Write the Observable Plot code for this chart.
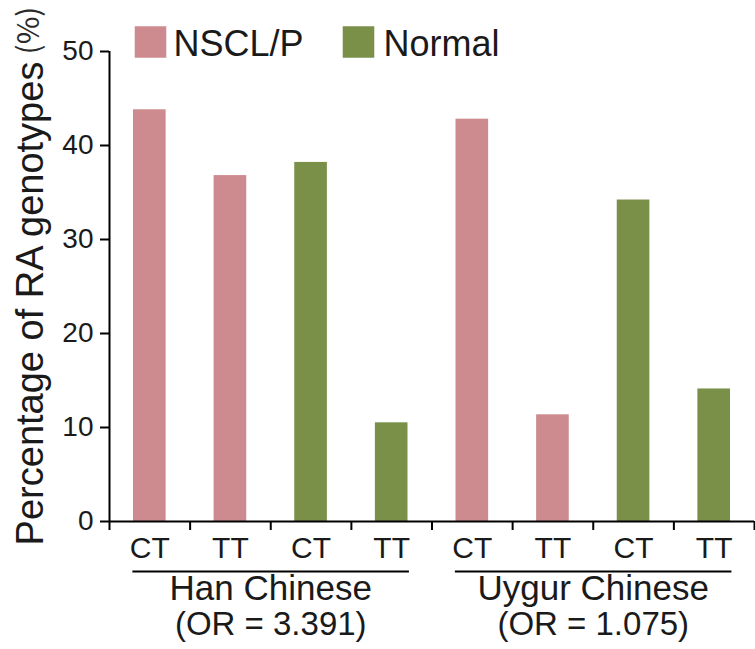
<!DOCTYPE html>
<html><head><meta charset="utf-8">
<script src="https://cdn.jsdelivr.net/npm/d3@7"></script>
<script src="https://cdn.jsdelivr.net/npm/@observablehq/plot@0.6"></script>
<style>body{margin:0;background:#fff} svg{display:block}</style>
</head><body><div id="chart"></div>
<script>
const groups = ["Han Chinese", "Uygur Chinese"];
const oddsRatios = ["(OR = 3.391)", "(OR = 1.075)"];
const series = ["NSCL/P", "Normal"];
const genotypes = ["CT", "TT"];
// order: Han CT, Han TT, Uygur CT, Uygur TT
const nsclpValues = [43.8, 36.8, 42.8, 11.35];
const normalValues = [38.2, 10.5, 34.2, 14.1];
const seriesColors = ["#CE8B8F", "#7A9049"];
const yTicks = [0, 10, 20, 30, 40, 50];
const yLabel = "Percentage of RA genotypes";
const yUnit = "(%)";

const valuesBySeries = [nsclpValues, normalValues];
const rows = [];
groups.forEach((g, gi) => series.forEach((s, si) => genotypes.forEach((gt, ki) => {
  rows.push({group: g, series: s, genotype: gt, value: valuesBySeries[si][gi * 2 + ki], slot: gi * 4 + si * 2 + ki});
})));
const groupRows = groups.map((g, gi) => ({name: g, or: oddsRatios[gi], start: gi * 4, end: gi * 4 + 4}));

const ink = "#1a1a1a";
const legendOffsets = [{sq: 41, tx: 64}, {sq: 249, tx: 274}];
const legendMarks = series.flatMap((s, i) => [
  Plot.dot([s], {frameAnchor: "top-left", dx: legendOffsets[i].sq, dy: -9.5, r: 17.8, symbol: "square", fill: seriesColors[i]}),
  Plot.text([s], {frameAnchor: "top-left", dx: legendOffsets[i].tx, dy: 4, textAnchor: "start", lineAnchor: "bottom", fontSize: 36, fill: ink})
]);

const chart = Plot.plot({
  width: 755, height: 649,
  marginLeft: 109, marginRight: 1, marginTop: 51, marginBottom: 128,
  style: {fontFamily: "'Liberation Sans', Arial, sans-serif", color: ink, background: "#fff", overflow: "visible"},
  x: {domain: [0, rows.length], axis: null},
  y: {domain: [0, 50], axis: null},
  color: {domain: series, range: seriesColors},
  marks: [
    Plot.rect(rows, {x1: "slot", x2: d => d.slot + 1, y1: 0, y2: "value", fill: "series", insetLeft: 24, insetRight: 24}),
    Plot.axisY({ticks: yTicks, tickSize: 9, tickFormat: () => "", strokeWidth: 2, stroke: "#000", label: null}),
    Plot.text(yTicks, {x: 0, y: d => d, text: d => String(d), textAnchor: "end", dx: -16, fontSize: 28, fill: ink}),
    Plot.ruleX([0], {strokeWidth: 2, stroke: "#000"}),
    Plot.ruleY([0], {strokeWidth: 2, stroke: "#000"}),
    Plot.axisX({ticks: d3.range(rows.length + 1), tickSize: 9, tickFormat: () => "", strokeWidth: 2, stroke: "#000", label: null}),
    Plot.text(rows, {x: d => d.slot + 0.5, y: 0, text: "genotype", lineAnchor: "bottom", dy: 36, fontSize: 30, fill: ink}),
    Plot.ruleY(groupRows, {x1: d => d.start + 0.29, x2: d => d.end - 0.28, y: 0, dy: 50, strokeWidth: 2, stroke: "#000"}),
    Plot.text(groupRows, {x: d => (d.start + d.end) / 2, y: 0, text: "name", lineAnchor: "bottom", dy: 78, fontSize: 35, fill: ink}),
    Plot.text(groupRows, {x: d => (d.start + d.end) / 2, y: 0, text: "or", lineAnchor: "bottom", dy: 113, fontSize: 33, fill: ink}),
    Plot.text([yLabel], {frameAnchor: "left", textAnchor: "middle", rotate: -90, dx: -79, dy: 17, fontSize: 38, fill: ink}),
    Plot.text([yUnit], {frameAnchor: "left", textAnchor: "middle", rotate: -90, dx: -80, dy: -256, fontSize: 30, letterSpacing: 2, fontFamily: "'Noto Sans CJK SC'", fill: "#2a2a2a"}),
    ...legendMarks
  ]
});
document.getElementById("chart").appendChild(chart);
</script>
</body></html>
